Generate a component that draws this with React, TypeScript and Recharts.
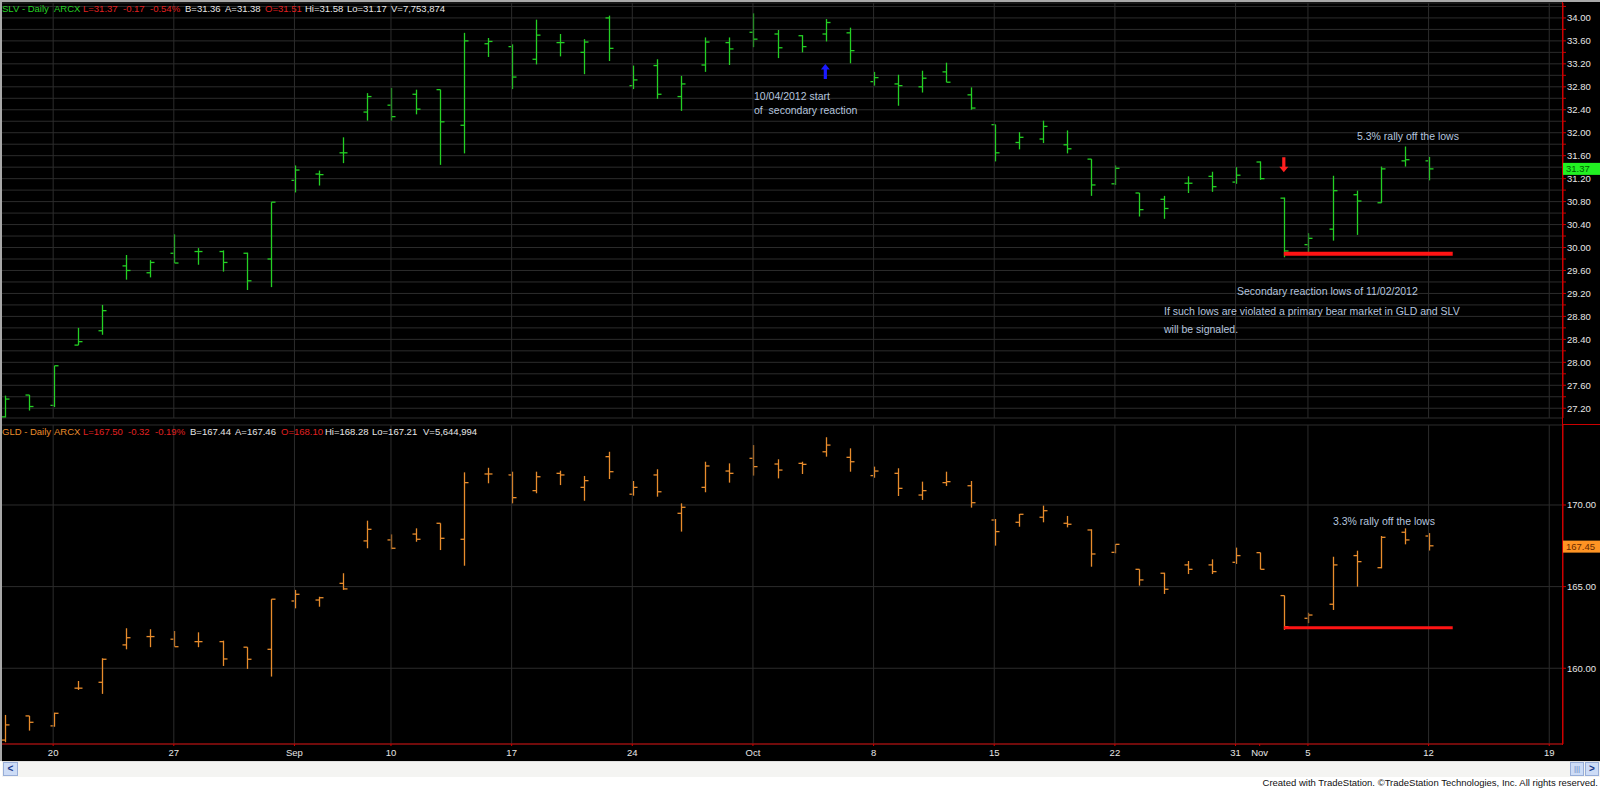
import React from "react";
import {
  ComposedChart,
  Bar,
  XAxis,
  YAxis,
  CartesianGrid,
  ReferenceLine,
  ReferenceDot,
} from "recharts";

// trading days (the last five are empty future slots on the time axis)
const tradingDays = [
  "08/16", "08/17", "08/20", "08/21", "08/22", "08/23", "08/24", "08/27", "08/28", "08/29",
  "08/30", "08/31", "09/04", "09/05", "09/06", "09/07", "09/10", "09/11", "09/12", "09/13",
  "09/14", "09/17", "09/18", "09/19", "09/20", "09/21", "09/24", "09/25", "09/26", "09/27",
  "09/28", "10/01", "10/02", "10/03", "10/04", "10/05", "10/08", "10/09", "10/10", "10/11",
  "10/12", "10/15", "10/16", "10/17", "10/18", "10/19", "10/22", "10/23", "10/24", "10/25",
  "10/26", "10/31", "11/01", "11/02", "11/05", "11/06", "11/07", "11/08", "11/09", "11/12",
  "11/13", "11/14", "11/15", "11/16", "11/19",
];

const tickDays = ["08/20", "08/27", "09/04", "09/10", "09/17", "09/24", "10/01", "10/08", "10/15", "10/22", "10/31", "11/01", "11/05", "11/12", "11/19"];
const tickText = ["20", "27", "Sep", "10", "17", "24", "Oct", "8", "15", "22", "31", "Nov", "5", "12", "19"];
const gridDays = ["08/20", "08/27", "09/04", "09/10", "09/17", "09/24", "10/01", "10/08", "10/15", "10/22", "10/31", "11/05", "11/12", "11/19"];

// SLV daily bars
const slvOpen = [27.05, 27.43, 27.25, 28.3, 28.55, 29.68, 29.56, 29.9, 29.93, 29.93, 29.9, 29.8, 31.17, 31.28, 31.65, 32.36, 32.48, 32.67, 32.75, 32.13, 33.55, 33.5, 33.28, 33.57, 33.4, 34.0, 32.82, 33.17, 32.63, 33.18, 33.57, 33.75, 33.72, 33.69, 33.72, 33.74, 32.89, 32.85, 32.8, 33.06, 32.66, 32.14, 31.83, 31.89, 31.79, 31.54, 31.11, 30.95, 30.84, 31.12, 31.24, 31.14, 31.49, 30.86, 30.05, 30.32, 30.92, 30.78, 31.51, 31.51];
const slvHigh = [27.42, 27.43, 27.94, 28.6, 29.0, 29.87, 29.78, 30.23, 29.99, 29.95, 29.91, 30.79, 31.43, 31.34, 31.92, 32.69, 32.78, 32.75, 32.75, 33.74, 33.65, 33.54, 33.97, 33.72, 33.63, 34.04, 33.17, 33.28, 32.99, 33.66, 33.66, 34.08, 33.79, 33.7, 33.98, 33.83, 33.06, 33.01, 33.08, 33.22, 32.79, 32.14, 32.01, 32.21, 32.04, 31.54, 31.43, 30.95, 30.9, 31.24, 31.32, 31.4, 31.5, 30.87, 30.25, 31.25, 30.99, 31.41, 31.76, 31.58];
const slvLow = [27.04, 27.16, 27.22, 28.3, 28.48, 29.44, 29.48, 29.73, 29.7, 29.58, 29.26, 29.31, 30.96, 31.08, 31.47, 32.21, 32.21, 32.32, 31.44, 31.64, 33.32, 32.76, 33.19, 33.33, 33.02, 33.25, 32.76, 32.59, 32.38, 33.06, 33.18, 33.49, 33.3, 33.4, 33.59, 33.21, 32.82, 32.47, 32.7, 32.88, 32.4, 31.5, 31.71, 31.82, 31.64, 30.9, 31.09, 30.54, 30.5, 30.95, 30.97, 31.11, 31.18, 29.83, 29.9, 30.12, 30.22, 30.78, 31.41, 31.17];
const slvClose = [27.36, 27.23, 27.94, 28.36, 28.9, 29.6, 29.74, 29.73, 29.93, 29.74, 29.42, 30.79, 31.35, 31.27, 31.65, 32.63, 32.28, 32.41, 32.19, 33.6, 33.59, 32.97, 33.7, 33.57, 33.58, 33.47, 32.92, 32.67, 32.85, 33.58, 33.46, 33.63, 33.48, 33.5, 33.92, 33.43, 32.96, 32.82, 32.95, 32.88, 32.43, 31.65, 31.92, 32.11, 31.72, 31.09, 31.38, 30.66, 30.68, 31.12, 31.06, 31.26, 31.2, 29.94, 30.16, 30.99, 30.81, 31.37, 31.53, 31.37];

// GLD daily bars
const gldOpen = [155.6, 157.08, 156.47, 158.78, 159.14, 161.43, 161.94, 161.78, 161.63, 161.63, 161.29, 161.16, 164.12, 164.18, 165.2, 167.8, 167.86, 168.22, 168.88, 167.9, 171.9, 171.84, 170.88, 171.94, 171.08, 172.96, 170.66, 171.84, 169.49, 171.08, 172.08, 172.86, 172.51, 172.55, 173.26, 172.92, 171.8, 171.94, 170.61, 171.37, 171.18, 169.08, 168.94, 169.25, 168.88, 168.47, 167.1, 166.06, 165.82, 166.33, 166.33, 166.49, 167.08, 164.45, 163.06, 163.92, 166.9, 166.16, 168.33, 168.1];
const gldHigh = [157.14, 157.08, 157.28, 159.22, 160.61, 162.45, 162.39, 162.28, 162.2, 161.69, 161.29, 164.23, 164.8, 164.38, 165.82, 169.04, 168.2, 168.57, 168.88, 172.0, 172.28, 172.04, 172.04, 172.1, 171.78, 173.26, 171.47, 172.19, 170.1, 172.65, 172.55, 173.67, 172.8, 172.65, 174.15, 173.47, 172.35, 172.25, 171.43, 172.04, 171.47, 169.14, 169.45, 169.96, 169.33, 168.51, 167.61, 166.06, 165.85, 166.57, 166.67, 167.39, 167.08, 164.45, 163.4, 166.83, 167.2, 168.1, 168.57, 168.28];
const gldLow = [155.47, 156.18, 156.42, 158.67, 158.43, 161.16, 161.29, 161.32, 161.29, 160.14, 159.96, 159.49, 163.67, 163.77, 164.8, 167.35, 167.29, 167.75, 167.24, 166.28, 171.33, 170.1, 170.72, 171.22, 170.26, 171.59, 170.57, 170.51, 168.37, 170.78, 171.37, 171.8, 171.63, 171.9, 172.96, 172.04, 171.67, 170.55, 170.31, 171.16, 169.84, 167.51, 168.67, 168.94, 168.63, 166.22, 167.04, 165.06, 164.55, 165.77, 165.77, 166.39, 166.06, 162.35, 162.76, 163.57, 165.0, 166.12, 167.59, 167.21];
const gldClose = [156.53, 156.69, 157.24, 158.78, 160.55, 161.87, 161.94, 161.32, 161.63, 160.57, 160.55, 164.23, 164.53, 164.32, 164.86, 168.51, 167.35, 167.9, 167.96, 171.37, 171.9, 170.45, 171.73, 171.84, 171.49, 172.04, 171.08, 170.81, 169.86, 172.39, 171.94, 172.35, 172.14, 172.49, 173.67, 172.65, 172.08, 171.02, 170.88, 171.43, 170.14, 168.37, 169.43, 169.65, 168.82, 167.0, 167.59, 165.41, 164.84, 166.06, 165.92, 166.9, 166.06, 162.55, 163.26, 166.33, 166.53, 168.02, 167.86, 167.5];

const slvTicks = [27.2, 27.4, 27.6, 27.8, 28.0, 28.2, 28.4, 28.6, 28.8, 29.0, 29.2, 29.4, 29.6, 29.8, 30.0, 30.2, 30.4, 30.6, 30.8, 31.0, 31.2, 31.4, 31.6, 31.8, 32.0, 32.2, 32.4, 32.6, 32.8, 33.0, 33.2, 33.4, 33.6, 33.8, 34.0, 34.2];
const gldTicks = [160, 165, 170];

const slvLast = 31.37;
const gldLast = 167.45;
const slvSupport = 29.89;
const gldSupport = 162.48;

const FONT = "'Liberation Sans', Arial, sans-serif";
const X_DOMAIN: [number, number] = [-0.12, 64.57];
const RED = "#cc0000";
const GRID = "#2c2c2c";
const NOTE = "#b4c4de";

const dayIndex = (d: string) => tradingDays.indexOf(d);

const slvData = slvOpen.map((o, i) => ({
  i,
  date: tradingDays[i],
  open: o,
  high: slvHigh[i],
  low: slvLow[i],
  close: slvClose[i],
  range: [slvLow[i], slvHigh[i]],
}));

const gldData = gldOpen.map((o, i) => ({
  i,
  date: tradingDays[i],
  open: o,
  high: gldHigh[i],
  low: gldLow[i],
  close: gldClose[i],
  range: [gldLow[i], gldHigh[i]],
}));

function OhlcShape(props: any) {
  const { x, y, width, height, payload, fill } = props;
  if (x == null || y == null || !payload) return null;
  const cx = Math.round(x + width / 2) + 0.5;
  const top = Math.min(y, y + height);
  const h = Math.max(Math.abs(height), 1);
  const span = payload.high - payload.low || 1;
  const yo = top + ((payload.high - payload.open) / span) * h;
  const yc = top + ((payload.high - payload.close) / span) * h;
  return (
    <g stroke={fill} strokeWidth={1.3}>
      <line x1={cx} x2={cx} y1={top} y2={top + h} />
      <line x1={cx - 4} x2={cx} y1={yo} y2={yo} />
      <line x1={cx} x2={cx + 4} y1={yc} y2={yc} />
    </g>
  );
}

function Arrow({ cx, cy, color, up }: any) {
  if (cx == null || cy == null) return null;
  const s = up ? 1 : -1;
  const pts = [
    [0, -8],
    [4.5, -2.5],
    [1.6, -2.5],
    [1.6, 7],
    [-1.6, 7],
    [-1.6, -2.5],
    [-4.5, -2.5],
  ]
    .map(([dx, dy]) => `${cx + dx},${cy + s * dy}`)
    .join(" ");
  return <polygon points={pts} fill={color} />;
}

function PriceBox({ cx, cy, bg, fg, text }: any) {
  if (cx == null || cy == null) return null;
  return (
    <g>
      <rect x={cx} y={cy - 6} width={37} height={12} fill={bg} />
      <text x={cx + 3} y={cy + 3.5} fill={fg} fontSize={9.5} fontFamily={FONT}>
        {text}
      </text>
    </g>
  );
}

const tickStyle = { fill: "#e6e6e6", fontSize: 9.5, fontFamily: FONT };

function Header({ top, items }: { top: number; items: [number, string, string][] }) {
  return (
    <>
      {items.map(([left, text, color], k) => (
        <div
          key={k}
          style={{
            position: "absolute",
            left,
            top,
            color,
            fontSize: 9.5,
            fontFamily: FONT,
            whiteSpace: "nowrap",
            lineHeight: "11px",
          }}
        >
          {text}
        </div>
      ))}
    </>
  );
}

function Note({ left, top, text }: { left: number; top: number; text: string }) {
  return (
    <div
      style={{
        position: "absolute",
        left,
        top,
        color: NOTE,
        fontSize: 10.5,
        fontFamily: FONT,
        whiteSpace: "pre",
        lineHeight: "12px",
      }}
    >
      {text}
    </div>
  );
}

const GREEN = "#24d024";
const ORANGE = "#e88c2c";
const LIGHT = "#e6e6e6";
const HRED = "#e02020";

export default function App() {
  const ticks = tickDays.map(dayIndex);
  const grid = gridDays.map(dayIndex);
  const labelFor = (v: number) => {
    const k = ticks.indexOf(Math.round(v));
    return k >= 0 ? tickText[k] : "";
  };

  return (
    <div
      style={{
        position: "absolute",
        left: 0,
        top: 0,
        width: 1600,
        height: 789,
        background: "#ffffff",
        overflow: "hidden",
        fontFamily: FONT,
      }}
    >
      {/* frame */}
      <div style={{ position: "absolute", left: 0, top: 0, width: 1600, height: 2, background: "#a8a8a8" }} />
      <div style={{ position: "absolute", left: 0, top: 0, width: 2, height: 761, background: "#a8a8a8" }} />
      <div style={{ position: "absolute", left: 2, top: 2, width: 1598, height: 759, background: "#000" }} />

      {/* SLV panel */}
      <div style={{ position: "absolute", left: 0, top: 0 }}>
        <ComposedChart width={1600} height={420} data={slvData} margin={{ top: 3, right: 0, bottom: 2, left: 2 }}>
          <CartesianGrid vertical={false} stroke={GRID} />
          {grid.map((g) => (
            <ReferenceLine key={g} x={g} stroke={GRID} />
          ))}
          <XAxis type="number" dataKey="i" domain={X_DOMAIN} allowDataOverflow hide />
          <YAxis
            orientation="right"
            domain={[27.03, 34.26]}
            allowDataOverflow
            ticks={slvTicks}
            interval={0}
            width={37}
            tickSize={3}
            tickMargin={1}
            axisLine={{ stroke: RED }}
            tickLine={{ stroke: RED }}
            tick={tickStyle}
            tickFormatter={(v: number) => (Math.round(v * 10) % 4 === 0 ? v.toFixed(2) : "")}
          />
          <Bar dataKey="range" barSize={9} fill={GREEN} shape={<OhlcShape />} isAnimationActive={false} />
          <ReferenceLine
            segment={[
              { x: dayIndex("11/02"), y: slvSupport },
              { x: dayIndex("11/13"), y: slvSupport },
            ]}
            stroke="#ff1414"
            strokeWidth={4}
          />
          <ReferenceDot
            x={dayIndex("10/04")}
            y={33.06}
            ifOverflow="visible"
            shape={(p: any) => <Arrow {...p} color="#1a1aff" up />}
          />
          <ReferenceDot
            x={dayIndex("11/02")}
            y={31.45}
            ifOverflow="visible"
            shape={(p: any) => <Arrow {...p} color="#ff2020" up={false} />}
          />
          <ReferenceDot
            x={X_DOMAIN[1]}
            y={slvLast}
            ifOverflow="visible"
            shape={(p: any) => <PriceBox {...p} bg="#22f022" fg="#006000" text={slvLast.toFixed(2)} />}
          />
        </ComposedChart>
      </div>

      {/* GLD panel */}
      <div style={{ position: "absolute", left: 0, top: 419 }}>
        <ComposedChart width={1600} height={342} data={gldData} margin={{ top: 6, right: 0, bottom: 0, left: 2 }}>
          <CartesianGrid vertical={false} stroke={GRID} />
          {grid.map((g) => (
            <ReferenceLine key={g} x={g} stroke={GRID} />
          ))}
          <XAxis
            type="number"
            dataKey="i"
            domain={X_DOMAIN}
            allowDataOverflow
            ticks={ticks}
            interval={0}
            height={17}
            tickSize={2}
            tickMargin={3}
            axisLine={{ stroke: RED }}
            tickLine={{ stroke: RED }}
            tick={tickStyle}
            tickFormatter={labelFor}
          />
          <YAxis
            orientation="right"
            domain={[155.36, 174.9]}
            allowDataOverflow
            ticks={gldTicks}
            interval={0}
            width={37}
            tickSize={3}
            tickMargin={1}
            axisLine={{ stroke: RED }}
            tickLine={{ stroke: RED }}
            tick={tickStyle}
            tickFormatter={(v: number) => v.toFixed(2)}
          />
          <Bar dataKey="range" barSize={9} fill={ORANGE} shape={<OhlcShape />} isAnimationActive={false} />
          <ReferenceLine
            segment={[
              { x: dayIndex("11/02"), y: gldSupport },
              { x: dayIndex("11/13"), y: gldSupport },
            ]}
            stroke="#ff1414"
            strokeWidth={3}
          />
          <ReferenceDot
            x={X_DOMAIN[1]}
            y={gldLast}
            ifOverflow="visible"
            shape={(p: any) => <PriceBox {...p} bg="#ff9424" fg="#6a2a00" text={gldLast.toFixed(2)} />}
          />
        </ComposedChart>
      </div>

      {/* axis separators */}
      <div style={{ position: "absolute", left: 1562, top: 2, width: 1, height: 743, background: RED }} />
      <div style={{ position: "absolute", left: 1563, top: 424, width: 37, height: 1, background: RED }} />

      {/* headers */}
      <Header
        top={3}
        items={[
          [2, "SLV - Daily", GREEN],
          [54, "ARCX", GREEN],
          [83, "L=31.37", HRED],
          [123, "-0.17", HRED],
          [150, "-0.54%", HRED],
          [185, "B=31.36", LIGHT],
          [225, "A=31.38", LIGHT],
          [265, "O=31.51", HRED],
          [305, "Hi=31.58", LIGHT],
          [347, "Lo=31.17", LIGHT],
          [391, "V=7,753,874", LIGHT],
        ]}
      />
      <Header
        top={426}
        items={[
          [2, "GLD - Daily", ORANGE],
          [54, "ARCX", ORANGE],
          [83, "L=167.50", HRED],
          [128, "-0.32", HRED],
          [155, "-0.19%", HRED],
          [190, "B=167.44", LIGHT],
          [235, "A=167.46", LIGHT],
          [281, "O=168.10", HRED],
          [325, "Hi=168.28", LIGHT],
          [372, "Lo=167.21", LIGHT],
          [423, "V=5,644,994", LIGHT],
        ]}
      />

      {/* annotations */}
      <Note left={754} top={90} text="10/04/2012 start" />
      <Note left={754} top={104} text="of  secondary reaction" />
      <Note left={1357} top={130} text="5.3% rally off the lows" />
      <Note left={1237} top={285} text="Secondary reaction lows of 11/02/2012" />
      <Note left={1164} top={305} text="If such lows are violated a primary bear market in GLD and SLV" />
      <Note left={1164} top={323} text="will be signaled." />
      <Note left={1333} top={515} text="3.3% rally off the lows" />

      {/* scrollbar */}
      <div style={{ position: "absolute", left: 2, top: 761, width: 1598, height: 15, background: "#f4f4f2", borderTop: "1px solid #e0e0e0" }} />
      <div
        style={{
          position: "absolute",
          left: 3,
          top: 762,
          width: 13,
          height: 12,
          background: "#cddcf6",
          border: "1px solid #98aed8",
          color: "#1a3a8a",
          fontSize: 10,
          lineHeight: "12px",
          textAlign: "center",
          fontWeight: "bold",
        }}
      >
        {"<"}
      </div>
      <div
        style={{
          position: "absolute",
          left: 1570,
          top: 762,
          width: 12,
          height: 12,
          background: "#cddcf6",
          border: "1px solid #98aed8",
          color: "#6a86c0",
          fontSize: 8,
          lineHeight: "12px",
          textAlign: "center",
        }}
      >
        {"|||"}
      </div>
      <div
        style={{
          position: "absolute",
          left: 1585,
          top: 762,
          width: 12,
          height: 12,
          background: "#cddcf6",
          border: "1px solid #98aed8",
          color: "#1a3a8a",
          fontSize: 10,
          lineHeight: "12px",
          textAlign: "center",
          fontWeight: "bold",
        }}
      >
        {">"}
      </div>

      {/* footer */}
      <div
        style={{
          position: "absolute",
          right: 2,
          top: 777,
          color: "#111",
          fontSize: 9.5,
          fontFamily: FONT,
          whiteSpace: "nowrap",
          lineHeight: "12px",
        }}
      >
        Created with TradeStation. ©TradeStation Technologies, Inc. All rights reserved.
      </div>
    </div>
  );
}
